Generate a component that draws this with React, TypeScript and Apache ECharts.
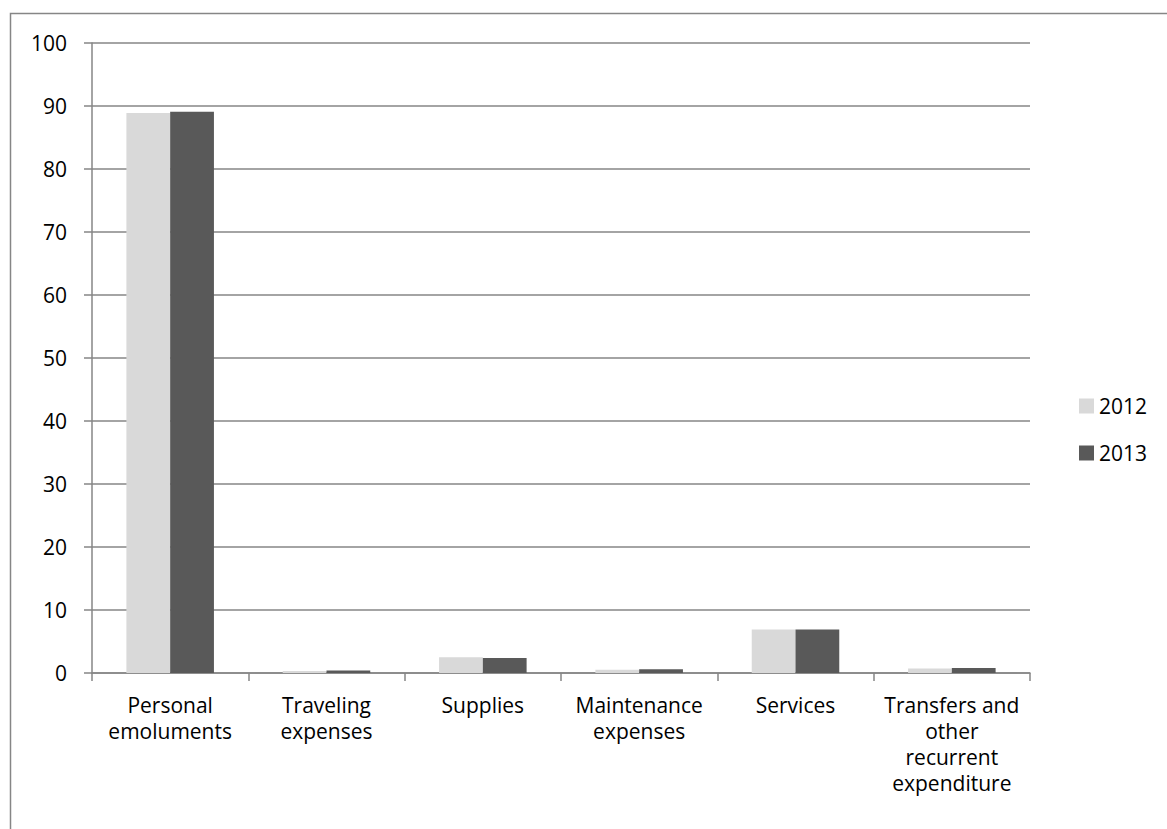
import React, { useEffect, useRef } from "react";
import * as echarts from "echarts";

const categories = [
  "Personal\nemoluments",
  "Traveling\nexpenses",
  "Supplies",
  "Maintenance\nexpenses",
  "Services",
  "Transfers and\nother\nrecurrent\nexpenditure",
];
const values2012 = [88.9, 0.3, 2.5, 0.5, 6.9, 0.7];
const values2013 = [89.1, 0.4, 2.4, 0.6, 6.9, 0.8];
const seriesNames = ["2012", "2013"];

export default function App() {
  const ref = useRef<HTMLDivElement>(null);
  useEffect(() => {
    if (!ref.current) return;
    const chart = echarts.init(ref.current, null, { renderer: "svg" });
    const font = "'Open Sans', sans-serif";
    chart.setOption({
      animation: false,
      backgroundColor: "#ffffff",
      textStyle: { fontFamily: font },
      graphic: [
        {
          type: "rect",
          shape: { x: 10.5, y: 13.5, width: 1200, height: 900 },
          style: { fill: "none", stroke: "#868686", lineWidth: 1.5 },
          silent: true,
        },
      ],
      grid: { left: 92, top: 43, right: 137, bottom: 156 },
      legend: {
        orient: "vertical",
        left: 1074,
        top: 390,
        itemWidth: 15,
        itemHeight: 15,
        itemGap: 25,
        icon: "rect",
        textStyle: { fontSize: 21, lineHeight: 22, color: "#000", fontFamily: font },
        data: seriesNames,
      },
      xAxis: {
        type: "category",
        data: categories,
        axisLine: { lineStyle: { color: "#868686", width: 1.5 } },
        axisTick: { show: true, length: 8, lineStyle: { color: "#868686", width: 1.5 } },
        axisLabel: {
          fontSize: 21,
          color: "#000",
          lineHeight: 26,
          margin: 19,
          interval: 0,
          fontFamily: font,
        },
      },
      yAxis: {
        type: "value",
        min: 0,
        max: 100,
        interval: 10,
        axisLine: { show: true, lineStyle: { color: "#868686", width: 1.5 } },
        axisTick: { show: true, length: 8, lineStyle: { color: "#868686", width: 1.5 } },
        axisLabel: { fontSize: 21, color: "#000", margin: 25, fontFamily: font },
        splitLine: { lineStyle: { color: "#868686", width: 1.5 } },
      },
      series: [
        {
          name: seriesNames[0],
          type: "bar",
          data: values2012,
          itemStyle: { color: "#d9d9d9" },
          barGap: "0%",
          barCategoryGap: "44%",
        },
        {
          name: seriesNames[1],
          type: "bar",
          data: values2013,
          itemStyle: { color: "#595959" },
          barGap: "0%",
          barCategoryGap: "44%",
        },
      ],
    });
    return () => chart.dispose();
  }, []);
  return (
    <div
      ref={ref}
      style={{ position: "fixed", left: 0, top: 0, width: 1167, height: 829 }}
    />
  );
}
